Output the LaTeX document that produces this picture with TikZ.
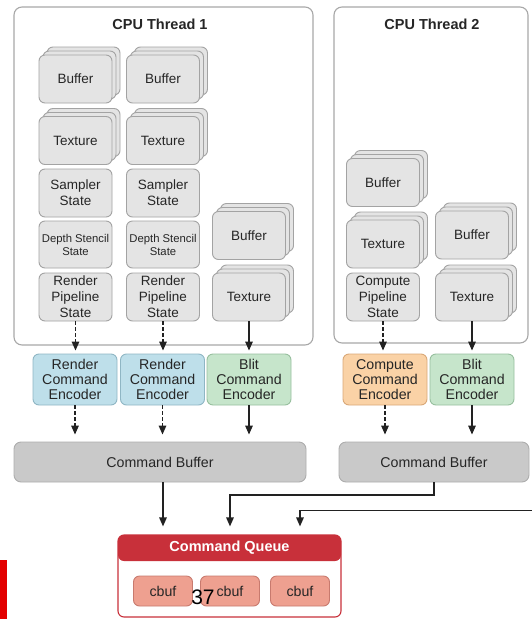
\documentclass[tikz,border=0pt]{standalone}
\usepackage{fontspec}
\setmainfont{Liberation Sans}
\usetikzlibrary{arrows.meta,shadows}
\definecolor{txt}{HTML}{262626}
\definecolor{boxfill}{HTML}{E4E4E4}
\definecolor{boxdraw}{HTML}{A3A3A3}
\definecolor{thrdraw}{HTML}{A8A8A8}
\definecolor{renfill}{HTML}{BEDFEA}
\definecolor{rendraw}{HTML}{8FB6C4}
\definecolor{blitfill}{HTML}{C6E5CB}
\definecolor{blitdraw}{HTML}{97BF9E}
\definecolor{compfill}{HTML}{FAD2A6}
\definecolor{compdraw}{HTML}{D9A878}
\definecolor{cbfill}{HTML}{C9C9C9}
\definecolor{cbdraw}{HTML}{ADADAD}
\definecolor{cqred}{HTML}{C8303A}
\definecolor{cbuffill}{HTML}{EEA090}
\definecolor{cbufdraw}{HTML}{C87A6E}
\definecolor{arrowc}{HTML}{222222}
\definecolor{redbar}{HTML}{E30000}
\begin{document}
\begin{tikzpicture}[x=1pt,y=-1pt]
\tikzset{
  lbl/.style={text=txt, align=center, inner sep=0pt},
  box/.style={lbl, rectangle, rounded corners=6pt, draw=boxdraw, fill=boxfill,
    line width=0.9pt, minimum width=73pt, minimum height=48pt,
    font=\fontsize{13.5}{16}\selectfont},
  smallbox/.style={box, font=\fontsize{11.3}{13}\selectfont},
  stackbox/.style={box,
    general shadow={shadow xshift=8pt,shadow yshift=8pt,fill=boxfill,draw=boxdraw,line width=0.9pt},
    general shadow={shadow xshift=4pt,shadow yshift=4pt,fill=boxfill,draw=boxdraw,line width=0.9pt}},
  thread/.style={rectangle, rounded corners=8pt, draw=thrdraw, fill=white, line width=1.1pt, inner sep=0pt},
  ttitle/.style={lbl, font=\fontsize{14.5}{16}\selectfont\bfseries},
  enc/.style={lbl, rectangle, rounded corners=6pt, line width=0.9pt,
    minimum width=84pt, minimum height=51pt, font=\fontsize{14.2}{15}\selectfont},
  render/.style={enc, fill=renfill, draw=rendraw},
  blit/.style={enc, fill=blitfill, draw=blitdraw},
  compute/.style={enc, fill=compfill, draw=compdraw},
  cmdbuf/.style={lbl, rectangle, rounded corners=7pt, fill=cbfill, draw=cbdraw, line width=0.9pt,
    minimum height=40pt, font=\fontsize{14.2}{16}\selectfont},
  cbufbox/.style={lbl, rectangle, rounded corners=6pt, fill=cbuffill, draw=cbufdraw, line width=0.9pt,
    minimum width=59pt, minimum height=30pt, font=\fontsize{14.2}{16}\selectfont},
  arr/.style={draw=arrowc, line width=1.4pt, -{Triangle[length=9pt,width=7.5pt]}},
  darr/.style={arr, dash pattern=on 3.5pt off 2.5pt},
}
\useasboundingbox (0,0) rectangle (531,619);

% thread frames
\node[thread, minimum width=299pt, minimum height=338pt] (t1) at (163.5,176) {};
\node[thread, minimum width=194pt, minimum height=336pt] (t2) at (431,175) {};
\node[ttitle] (t1title) at (160,24) {CPU Thread 1};
\node[ttitle] (t2title) at (432,24) {CPU Thread 2};

% thread 1, column 1
\node[stackbox] (buf1) at (75.5,79) {Buffer};
\node[stackbox] (tex1) at (75.5,140.5) {Texture};
\node[box] (samp1) at (75.5,193) {Sampler\\State};
\node[smallbox, minimum height=47pt] (ds1) at (75.5,244.5) {Depth Stencil\\State};
\node[box] (rps1) at (75.5,297) {Render\\Pipeline\\State};
% thread 1, column 2
\node[stackbox] (buf2) at (163,79) {Buffer};
\node[stackbox] (tex2) at (163,140.5) {Texture};
\node[box] (samp2) at (163,193) {Sampler\\State};
\node[smallbox, minimum height=47pt] (ds2) at (163,244.5) {Depth Stencil\\State};
\node[box] (rps2) at (163,297) {Render\\Pipeline\\State};
% thread 1, column 3
\node[stackbox] (buf3) at (249,235.5) {Buffer};
\node[stackbox] (tex3) at (249,297) {Texture};
% thread 2, column 1
\node[stackbox] (buf4) at (383,182.5) {Buffer};
\node[stackbox] (tex4) at (383,244) {Texture};
\node[box] (cps) at (383,297) {Compute\\Pipeline\\State};
% thread 2, column 2
\node[stackbox] (buf5) at (472,235) {Buffer};
\node[stackbox] (tex5) at (472,297) {Texture};

% encoders
\node[render] (re1) at (75,379.5) {Render\\Command\\Encoder};
\node[render] (re2) at (162.5,379.5) {Render\\Command\\Encoder};
\node[blit] (be1) at (249,379.5) {Blit\\Command\\Encoder};
\node[compute] (ce) at (385,379.5) {Compute\\Command\\Encoder};
\node[blit] (be2) at (472,379.5) {Blit\\Command\\Encoder};

% arrows into encoders
\draw[darr, shorten >=3pt] (rps1.south) -- (rps1.south |- re1.north);
\draw[darr, shorten >=3pt] (rps2.south) -- (rps2.south |- re2.north);
\draw[arr, shorten >=3pt] (tex3.south) -- (tex3.south |- be1.north);
\draw[darr, shorten >=3pt] (cps.south) -- (cps.south |- ce.north);
\draw[arr, shorten >=3pt] (tex5.south) -- (tex5.south |- be2.north);

% command buffers
\node[cmdbuf, minimum width=292pt] (cb1) at (160,462) {Command Buffer};
\node[cmdbuf, minimum width=190pt] (cb2) at (434,462) {Command Buffer};

\draw[darr, shorten >=7pt] (re1.south) -- (re1.south |- cb1.north);
\draw[darr, shorten >=7pt] (re2.south) -- (re2.south |- cb1.north);
\draw[arr, shorten >=7pt] (be1.south) -- (be1.south |- cb1.north);
\draw[darr, shorten >=7pt] (ce.south) -- (ce.south |- cb2.north);
\draw[arr, shorten >=7pt] (be2.south) -- (be2.south |- cb2.north);

% command queue
\node[rectangle, rounded corners=6pt, draw=cqred, fill=white, line width=1.1pt,
  minimum width=223pt, minimum height=82pt, inner sep=0pt,
  path picture={\fill[cqred] (path picture bounding box.north west) rectangle
    ([yshift=-26pt]path picture bounding box.north east);}] (cq) at (229.5,576) {};
\node[lbl, text=white, font=\fontsize{14.5}{16}\selectfont\bfseries] (cqtitle) at (229.5,548) {Command Queue};
\node[cbufbox] (cbA) at (163,591) {cbuf};
\node[cbufbox] (cbB) at (230,591) {cbuf};
\node[cbufbox] (cbC) at (300,591) {cbuf};

% arrows into queue
\coordinate (ext) at (532,510.5);
\draw[arr, shorten >=8pt] (cbA |- cb1.south) -- (cbA |- cq.north);
\draw[arr, shorten >=8pt] (cb2.south) -- (cb2.south |- 0,495) -| (cbB |- cq.north);
\draw[arr, shorten >=8pt] (ext) -| (cbC |- cq.north);

% page number overlay and red bar
\node[anchor=base, inner sep=0pt, text=black, font=\fontsize{21}{21}\selectfont] (pnum) at (203,604) {37};
\fill[redbar] (0,560) rectangle (6.5,619);
\end{tikzpicture}
\end{document}
